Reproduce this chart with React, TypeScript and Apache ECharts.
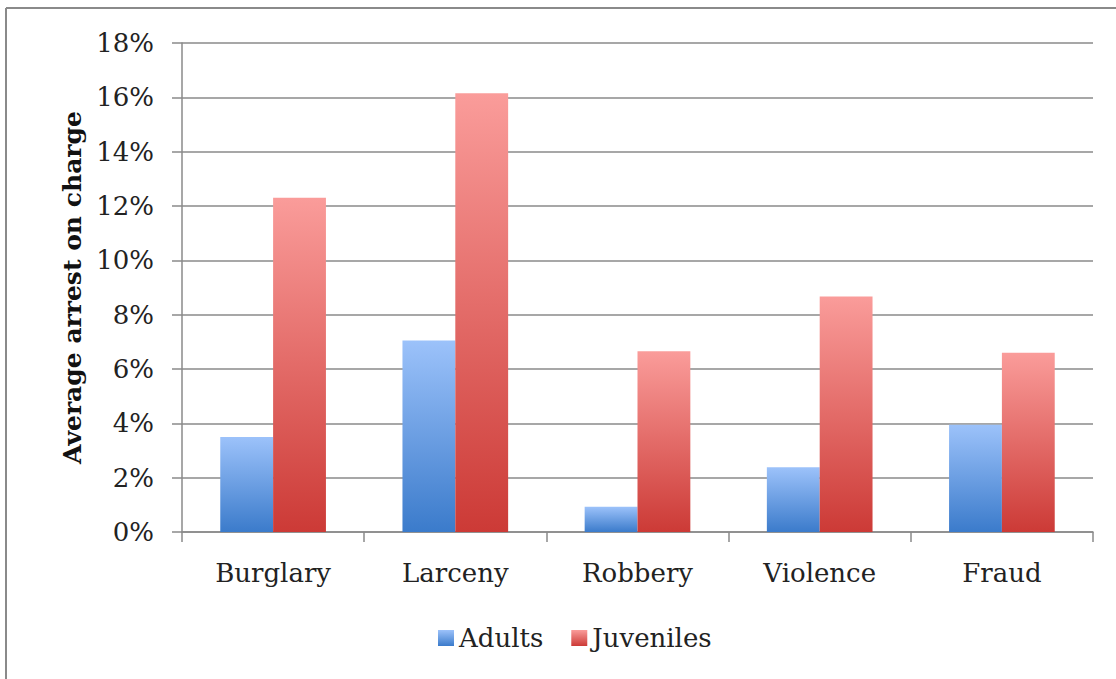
import React, { useEffect, useRef } from "react";
import * as echarts from "echarts";

const categories = ["Burglary", "Larceny", "Robbery", "Violence", "Fraud"];
const adults = [3.5, 7.05, 0.93, 2.38, 3.95];
const juveniles = [12.3, 16.15, 6.65, 8.67, 6.6];
const yTicks = { min: 0, max: 18, interval: 2 };

const FONT = "DejaVu Serif";

export default function App() {
  const ref = useRef<HTMLDivElement>(null);
  useEffect(() => {
    if (!ref.current) return;
    const chart = echarts.init(ref.current, null, { renderer: "svg" });
    const blue = new echarts.graphic.LinearGradient(0, 0, 0, 1, [
      { offset: 0, color: "#9cc2fa" },
      { offset: 1, color: "#3b7bcb" },
    ]);
    const red = new echarts.graphic.LinearGradient(0, 0, 0, 1, [
      { offset: 0, color: "#fa9c9a" },
      { offset: 1, color: "#cc3a36" },
    ]);
    chart.setOption({
      animation: false,
      backgroundColor: "#ffffff",
      grid: { left: 182, right: 23, top: 43, bottom: 147 },
      legend: {
        left: 433,
        top: 620,
        itemWidth: 16,
        itemHeight: 16,
        itemGap: 28,
        icon: "rect",
        textStyle: { fontFamily: FONT, fontSize: 26, color: "#222" },
        data: ["Adults", "Juveniles"],
      },
      xAxis: {
        type: "category",
        data: categories,
        axisLine: { lineStyle: { color: "#8a8a8a", width: 1.5 } },
        axisTick: { show: true, length: 10, lineStyle: { color: "#8a8a8a", width: 1.5 } },
        axisLabel: { fontFamily: FONT, fontSize: 26, color: "#222", margin: 28 },
      },
      yAxis: {
        type: "value",
        min: yTicks.min,
        max: yTicks.max,
        interval: yTicks.interval,
        name: "Average arrest on charge",
        nameLocation: "middle",
        nameGap: 95,
        nameTextStyle: { fontFamily: FONT, fontSize: 25, fontWeight: "bold", color: "#111" },
        axisLine: { show: true, lineStyle: { color: "#8a8a8a", width: 1.5 } },
        axisTick: { show: true, length: 10, lineStyle: { color: "#8a8a8a", width: 1.5 } },
        axisLabel: {
          fontFamily: FONT,
          fontSize: 26,
          color: "#222",
          margin: 28,
          formatter: "{value}%",
        },
        splitLine: { lineStyle: { color: "#8a8a8a", width: 1.5 } },
      },
      series: [
        {
          name: "Adults",
          type: "bar",
          data: adults,
          barGap: "0%",
          barCategoryGap: "42%",
          itemStyle: { color: blue },
        },
        {
          name: "Juveniles",
          type: "bar",
          data: juveniles,
          barGap: "0%",
          barCategoryGap: "42%",
          itemStyle: { color: red },
        },
      ],
      graphic: [
        { type: "line", shape: { x1: 6, y1: 8, x2: 1116, y2: 8 }, style: { stroke: "#8a8a8a", lineWidth: 2 } },
        { type: "line", shape: { x1: 6, y1: 8, x2: 6, y2: 679 }, style: { stroke: "#8a8a8a", lineWidth: 2 } },
      ],
    });
    return () => chart.dispose();
  }, []);
  return (
    <div
      ref={ref}
      style={{ position: "fixed", left: 0, top: 0, width: 1116, height: 679 }}
    />
  );
}
